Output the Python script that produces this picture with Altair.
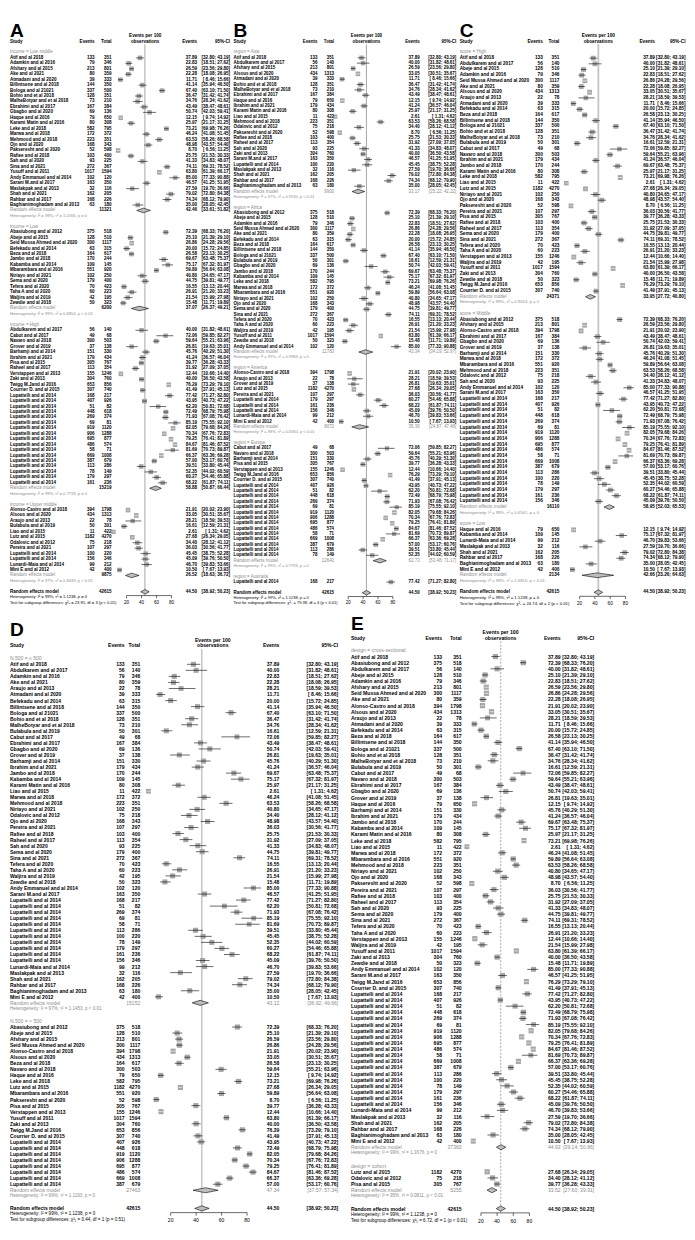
import altair as alt
import pandas as pd

# ---------------------------------------------------------------- data
keys = ["Atif","Abas","Abdu","Abej","Adam","Afsh","Seid","Ake","Alon","Also","Arau","Atma","Befe","Beza","Bill",
        "Bolo","Bohi","Malh","Bula","Cabu","Nava","Ebra","Gbag","Grov","Haqu","Barh","Ibra","Jamb","Kaba","Kara",
        "Leke","Liao","Marw","Mbar","Mehm","Niri","Ojo","Paks","Pere","Rafi","Rahe","Sah","Sema","Sina","Tefe",
        "Taha","Vers","Walj","Yusu","Zaki","Zewd","Andy","Sara","Twig","Cour",
        "L217","L926","L82","L618","L374","L81","L1120","L1288","L877","L574","L71","L1008","L679","L286","L220",
        "L149","L297","L236","L346","Luna","Masl","Shah","Rahb","Bagh","Mini","Lutz","Odal","Pisa"]
LUP = "Lupattelli and al 2014"
names = ["Atif  and al 2018","Abasiubong and al 2012","Abdulkarem and al 2017","Abeje and al 2015","Adamkin and al 2016",
         "Afshary and al 2015","Seid Mussa Ahmed and al 2020","Ake and al 2021","Alonso-Castro and al 2018","Alsous and al 2020",
         "Araujo and al 2013","Atmadani and al 2020","Befekadu  and al 2014","Beza and al 2018","Billintsene and al 2018",
         "Bologa and al 21021","Bohio and et al 2018","MalheBotyar and et al 2018","Bulabula and al 2019","Cabut and al 2017",
         "Navaro and al 2018","Ebrahimi and al 2017","Gbagbo and al 2020","Grover and al 2019","Haque and al 2016",
         "Barhamji and al 2014","Ibrahim and al 2021","Jambo and al 2018","Kabamba and al 2014","Karami Matin and al 2016",
         "Leke and al 2018","Liao and al 2015","Marwa and al 2018","Mbarambara and al 2016","Mehmood and al 2018",
         "Niriayo and al 2021","Ojo and al 2020","Pakseresht and al 2020","Pereira and al 2021","Rafiee and al 2018",
         "Raheel and al 2017","Sah and al 2020","Sema and al 2020","Sina and al 2021","Tefera and al 2020",
         "Taha A and al 2020","Verstappen and al 2013","Waljira and al 2019","Yusuff and al  2011","Zaki and al 2013",
         "Zewdie and al 2018","Andy Emmanuel and al 2014","Sarani M.and al 2017","Twigg M.Jand al 2016","Courrier D. and al 2015"] \
        + [LUP] * 19 + \
        ["Lunardi-Maia and al 2014","Maslakpak  and al 2013","Shah and al 2021","Rahbar and al 2017",
         "Baghianimoghadam and al 2013","Mini E and al 2012","Lutz and al 2015","Odalovic and al 2012","Pisa and al 2015"]
events = [133,375,56,128,79,213,300,80,394,434,22,39,63,164,144,337,128,73,50,49,300,167,69,37,79,151,179,170,109,80,
          582,11,172,551,223,102,168,52,107,103,113,93,179,272,70,60,155,42,1017,304,50,102,163,653,307,
          168,407,51,448,269,69,919,906,695,486,58,669,387,113,100,78,179,161,156,
          99,32,162,168,63,42,1182,75,305]
totals = [351,518,140,510,346,801,1117,359,1798,1313,78,333,315,617,350,500,351,210,301,68,503,384,136,138,650,330,434,244,145,308,
          795,422,372,920,351,250,343,598,297,400,354,225,400,367,423,223,1246,195,1594,760,323,120,350,856,740,
          217,926,82,618,374,81,1120,1288,877,574,71,1008,679,286,220,149,297,236,346,
          212,116,205,226,180,400,4270,218,767]
props = [37.89,72.39,40.00,25.10,22.83,26.59,26.86,22.28,21.91,33.05,28.21,11.71,20.00,26.58,41.14,67.40,36.47,34.76,16.61,72.06,
         59.64,43.49,50.74,26.81,12.15,45.76,41.24,69.67,75.17,25.97,73.21,2.61,46.24,59.89,63.53,40.80,48.98,8.70,36.03,25.75,
         31.92,41.33,44.75,74.11,16.55,26.91,12.44,21.54,63.80,40.00,15.48,85.00,46.57,76.29,41.49,
         77.42,43.95,62.20,72.49,71.93,85.19,82.05,70.34,79.25,84.67,81.69,66.37,57.00,39.51,45.45,52.35,60.27,68.22,45.09,
         46.70,27.59,79.02,74.34,35.00,10.50,27.68,34.40,39.77]
ci_lo = [32.80,68.33,31.82,21.39,18.51,23.56,24.28,18.08,20.02,30.51,18.59,8.46,15.72,23.13,35.94,63.10,31.42,28.34,12.59,59.85,
         55.21,38.47,42.03,19.63,9.74,40.29,36.57,63.48,67.32,21.17,69.98,1.31,41.08,56.64,58.26,34.65,43.57,6.56,30.56,21.53,
         27.09,34.83,39.81,69.31,13.13,21.20,10.66,15.99,61.39,36.50,11.71,77.33,41.25,73.29,37.91,
         71.27,40.73,50.81,68.79,67.08,75.55,79.68,67.76,76.41,81.46,70.73,63.36,53.17,33.80,38.75,44.02,54.46,61.87,39.76,
         39.83,19.70,72.80,68.12,28.05,7.67,26.34,28.12,36.28]
ci_hi = [43.19,76.20,48.61,29.10,27.62,29.80,29.56,26.95,23.90,35.67,39.53,15.66,24.85,30.25,46.50,71.50,41.74,41.62,21.31,82.27,
         63.96,48.61,59.41,35.01,14.92,51.30,46.04,75.37,81.97,31.25,76.26,4.62,51.45,63.08,68.58,47.17,54.40,11.25,41.77,30.33,
         37.05,48.07,49.77,78.52,20.44,33.23,14.40,27.98,66.17,43.58,19.89,90.88,51.95,79.10,45.13,
         82.80,47.22,72.68,75.98,76.42,92.10,84.26,72.83,81.89,87.52,89.87,69.28,60.76,45.44,52.28,60.59,65.88,74.11,50.50,
         53.66,36.66,84.38,79.90,42.45,13.93,29.05,41.12,43.33]

overall = (44.50, 38.92, 50.23)
overall_het = "Heterogeneity: I² = 99%, τ² = 1.1238, p = 0"
overall_tau2 = 1.1238
tick_values = [20, 40, 60, 80]

# A: income
A_labels = ["income = Low middle", "income = Low", "income = High", "income = Upper middle"]
A_members = [
    ["Atif","Adam","Afsh","Ake","Atma","Bill","Bolo","Bohi","Malh","Ebra","Gbag","Haqu","Kara","Leke","Marw","Mehm","Ojo",
     "Paks","Rafi","Sah","Sina","Yusu","Andy","Sara","Masl","Shah","Rahb","Bagh"],
    ["Abas","Abej","Seid","Befe","Beza","Jamb","Kaba","Mbar","Niri","Sema","Tefe","Taha","Walj","Zewd"],
    ["Abdu","Cabu","Nava","Grov","Barh","Ibra","Pisa","Rahe","Vers","Zaki","Twig","Cour","L217","L926","L82","L618","L374",
     "L81","L1120","L1288","L877","L574","L71","L1008","L679","L286","L149","L297","L236"],
    ["Alon","Also","Arau","Bula","Liao","Lutz","Odal","Pere","L220","L346","Luna","Mini"]]
A_re = [(42.46, 33.61, 51.82), (37.07, 26.37, 49.21), (58.88, 50.87, 66.44), (26.52, 18.63, 36.72)]
A_het = ["Heterogeneity: I² = 99%, τ² = 1.0166, p = 0", "Heterogeneity: I² = 99%, τ² = 0.6854, p < 0.01",
         "Heterogeneity: I² = 99%, τ² = 0.7719, p = 0", "Heterogeneity: I² = 97%, τ² = 0.8433, p < 0.01"]
A_test = "Test for subgroup differences: χ²₃ = 23.91, df = 3 (p < 0.01)"

# B: region
B_labels = ["region = Asia", "region = Africa", "region = America", "region = Europe", "region = Australia"]
B_members = [
    ["Atif","Abdu","Afsh","Also","Atma","Bohi","Malh","Ebra","Haqu","Ibra","Kara","Liao","Mehm","Odal","Paks","Rafi","Rahe",
     "Sah","Zaki","Sara","L220","Masl","Shah","Rahb","Bagh"],
    ["Abas","Abej","Adam","Seid","Ake","Befe","Beza","Bill","Bolo","Bula","Gbag","Jamb","Kaba","Leke","Marw","Mbar","Niri",
     "Ojo","Sema","Sina","Tefe","Taha","Walj","Yusu","Zewd","Andy"],
    ["Alon","Arau","Grov","Lutz","Pere","L297","L236","L346","Luna","Mini"],
    ["Cabu","Nava","Barh","Pisa","Vers","Twig","Cour","L926","L82","L618","L374","L81","L1120","L1288","L877","L574","L71",
     "L1008","L679","L286","L149"],
    ["L217"]]
B_re = [(33.17, 25.22, 42.22), (43.34, 34.19, 52.97), (35.36, 24.87, 47.48), (62.73, 53.48, 71.17), None]
B_het = ["Heterogeneity: I² = 97%, τ² = 0.9530, p < 0.01", "Heterogeneity: I² = 99%, τ² = 0.9983, p = 0",
         "Heterogeneity: I² = 98%, τ² = 0.6360, p < 0.01", "Heterogeneity: I² = 99%, τ² = 0.7793, p = 0", None]
B_test = "Test for subgroup differences: χ²₄ = 79.38, df = 4 (p < 0.01)"

# C: score
C_labels = ["score = High", "score = Middle", "score = Low"]
C_members = [
    ["Atif","Abdu","Abej","Adam","Seid","Ake","Also","Arau","Atma","Befe","Beza","Bill","Bolo","Bohi","Malh","Bula","Cabu",
     "Nava","Ibra","Jamb","Kara","Leke","Liao","Lutz","Niri","Ojo","Paks","Pere","Pisa","Rafi","Rahe","Sema","Sina","Tefe",
     "Taha","Vers","Walj","Yusu","Zaki","Zewd","Twig","Cour"],
    ["Abas","Afsh","Alon","Ebra","Gbag","Grov","Barh","Marw","Mbar","Mehm","Odal","Sah","Andy","Sara","L217","L926","L82",
     "L618","L374","L81","L1120","L1288","L877","L574","L71","L1008","L679","L286","L220","L149","L297","L236","L346"],
    ["Haqu","Kaba","Luna","Masl","Shah","Rahb","Bagh","Mini"]]
C_re = [(33.95, 27.72, 40.80), (58.95, 52.03, 65.53), (42.66, 23.26, 64.63)]
C_het = ["Heterogeneity: I² = 99%, τ² = 0.9024, p = 0", "Heterogeneity: I² = 99%, τ² = 0.6561, p = 0",
         "Heterogeneity: I² = 99%, τ² = 1.6810, p < 0.01"]
C_test = "Test for subgroup differences: χ²₂ = 24.74, df = 2 (p < 0.01)"

# D: sample size (study order of the full list)
D_order = keys[:32] + ["Lutz"] + keys[32:36] + ["Odal"] + keys[36:39] + ["Pisa"] + keys[39:80]
D_labels = ["N.500 = ≤ 500", "N.500 = > 500"]
D_members = [[k for k in D_order if totals[keys.index(k)] <= 500],
             [k for k in D_order if totals[keys.index(k)] > 500]]
D_re = [(43.12, 36.92, 49.66), (47.34, 37.57, 57.34)]
D_het = ["Heterogeneity: I² = 97%, τ² = 1.1453, p < 0.01", "Heterogeneity: I² = 99%, τ² = 1.1193, p = 0"]
D_test = "Test for subgroup differences: χ²₁ = 0.44, df = 1 (p = 0.51)"

# E: design
E_labels = ["design = cross-sectional", "design = cohort"]
E_members = [keys[:80], ["Lutz", "Odal", "Pisa"]]
E_re = [(44.93, 39.14, 50.86), (33.52, 27.60, 39.91)]
E_het = ["Heterogeneity: I² = 99%, τ² = 1.1676, p = 0", "Heterogeneity: I² = 95%, τ² = 0.0811, p < 0.01"]
E_test = "Test for subgroup differences: χ²₁ = 6.72, df = 1 (p < 0.01)"

# ---------------------------------------------------------------- layout
FONT = "Liberation Sans"
GRAY = "#8c8c8c"
LAYOUT = {
    "A": dict(W=226, H=598, fs=4.65, sp=5.56, y0=31.7, let_y=15.5, h1=14.7, h2=21.2, name=1, ev=87.3, tot=104.7,
              ctr=139, est=192, ci=225.7, x0=104.7, x100=181.2, vcol="#808080", vw=0.7, dash=False, rebold=True),
    "B": dict(W=229, H=598, fs=4.55, sp=5.46, y0=31.7, let_y=15.5, h1=14.7, h2=21.2, name=1.2, ev=86.8, tot=103.8,
              ctr=136.8, est=191.2, ci=228.5, x0=103.0, x100=179.0, vcol="#808080", vw=0.7, dash=False, rebold=False),
    "C": dict(W=232, H=598, fs=4.8, sp=5.8, y0=31.7, let_y=15.5, h1=14.7, h2=21.2, name=1, ev=85.8, tot=102.8,
              ctr=142.5, est=200.2, ci=231.5, x0=107.8, x100=185.8, vcol="#c4c4c4", vw=1.8, dash=False, rebold=True),
    "D": dict(W=343, H=626, fs=5.15, sp=6.17, y0=50, let_y=27, h1=31, h2=37, name=1, ev=118, tot=134,
              ctr=208, est=276, ci=336, x0=139, x100=269, vcol="#808080", vw=0.7, dash=False, rebold=False),
    "E": dict(W=344, H=626, fs=5.2, sp=6.26, y0=42, let_y=21.5, h1=23.3, h2=29, name=4, ev=97, tot=117,
              ctr=156.7, est=218, ci=252.3, x0=120.2, x100=202.7, vcol="#808080", vw=0.7, dash=True, rebold=False),
}

idx = {k: i for i, k in enumerate(keys)}
dummy = pd.DataFrame({"d": [0]})


def fmt_ci(lo, hi):
    return f"[{lo:5.2f}; {hi:5.2f}]"


def make_panel(tag, labels, members, re_list, het_list, test):
    L = LAYOUT[tag]
    slope = (L["x100"] - L["x0"]) / 100.0
    rows = []
    r = 0
    for lab, mem, re, het in zip(labels, members, re_list, het_list):
        rows.append(dict(row=r, kind="sub", label=lab, c=GRAY, lb=False, small=False))
        r += 1
        for k in mem:
            i = idx[k]
            v = 1.0 / events[i] + 1.0 / (totals[i] - events[i])
            rows.append(dict(row=r, kind="study", label=names[i], c="black", nc="black", lb=True, nb=True, small=False,
                             ev=str(events[i]), tot=str(totals[i]), p=props[i], lo=ci_lo[i], hi=ci_hi[i],
                             w=1.0 / (v + overall_tau2)))
            r += 1
        if re is not None:
            nc = "black" if L["rebold"] else GRAY
            rows.append(dict(row=r, kind="re", label="Random effects model", c=GRAY, nc=nc, lb=False,
                             nb=L["rebold"], small=False,
                             tot=str(sum(totals[idx[k]] for k in mem)), p=re[0], lo=re[1], hi=re[2]))
            r += 1
            rows.append(dict(row=r, kind="het", label=het, c=GRAY, lb=False, small=True))
            r += 1
        r += 1
    rows.append(dict(row=r, kind="ore", label="Random effects model", c="black", nc="black", nb=True, lb=True,
                     small=False, tot=str(sum(totals)), p=overall[0], lo=overall[1], hi=overall[2]))
    r += 1
    rows.append(dict(row=r, kind="ohet", label=overall_het, c="black", lb=False, small=True))
    r += 1
    rows.append(dict(row=r, kind="test", label=test, c="black", lb=False, small=True))
    r += 1
    N = r
    df = pd.DataFrame(rows)
    df["lb"] = df["lb"].astype(bool)
    df["small"] = df["small"].astype(bool)
    df["nb"] = df["nb"].fillna(False).astype(bool)
    df["est_t"] = df["p"].map(lambda v: "" if pd.isna(v) else f"{v:.2f}")
    df["ci_t"] = [("" if pd.isna(a) else fmt_ci(a, b)) for a, b in zip(df["lo"], df["hi"])]
    df = df.fillna({"ev": "", "tot": "", "nc": "black"})

    ysc = alt.Scale(domain=[0, N - 1], range=[L["y0"], L["y0"] + (N - 1) * L["sp"]], nice=False, zero=False)
    xsc = alt.Scale(domain=[0, 100], range=[L["x0"], L["x100"]], nice=False, zero=False)
    Y = alt.Y("row:Q", scale=ysc, axis=None)
    fs = L["fs"]
    layers = []

    def txt(data, field, x, align, color_field, bold, size=fs):
        return alt.Chart(data).mark_text(align=align, baseline="middle", font=FONT, fontSize=size,
                                         fontWeight="bold" if bold else "normal").encode(
            x=alt.value(x), y=Y, text=f"{field}:N", color=alt.Color(f"{color_field}:N", scale=None))

    def head(t, x, y, align, size=fs, bold=True):
        return alt.Chart(dummy).mark_text(text=t, align=align, baseline="alphabetic" if size > 10 else "middle",
                                          font=FONT, fontSize=size,
                                          fontWeight="bold" if bold else "normal", color="black").encode(
            x=alt.value(x), y=alt.value(y))

    layers.append(head(tag, L["name"], L["let_y"], "left", size=19.5, bold=True))
    layers.append(head("Study", L["name"], L["h2"], "left"))
    layers.append(head("Events", L["ev"], L["h2"], "right"))
    layers.append(head("Total", L["tot"], L["h2"], "right"))
    layers.append(head("Events per 100", L["ctr"], L["h1"], "center"))
    layers.append(head("observations", L["ctr"], L["h2"], "center"))
    layers.append(head("Events", L["est"], L["h2"], "right"))
    layers.append(head("95%-CI", L["ci"], L["h2"], "right"))

    # reference line at the overall estimate
    vl = pd.DataFrame({"x": [overall[0]], "ya": [-1.5], "yb": [N - 2.3]})
    rule_kw = dict(color=L["vcol"], strokeWidth=L["vw"])
    if L["dash"]:
        rule_kw["strokeDash"] = [2, 1.5]
    layers.append(alt.Chart(vl).mark_rule(**rule_kw).encode(
        x=alt.X("x:Q", scale=xsc, axis=None), y=alt.Y("ya:Q", scale=ysc, axis=None), y2="yb:Q"))

    # study squares and confidence intervals
    st = df[df.kind == "study"].copy()
    wmax = st["w"].max()
    side = 0.85 * L["sp"] * st["w"] / wmax
    st["sz"] = side ** 2
    st["lc"] = ["white" if (h - l) * slope < s else "black" for l, h, s in zip(st["lo"], st["hi"], side)]
    layers.append(alt.Chart(st).mark_square(filled=True, color="#a6a6a6", opacity=1).encode(
        x=alt.X("p:Q", scale=xsc, axis=None), y=Y, size=alt.Size("sz:Q", scale=None)))
    layers.append(alt.Chart(st).mark_rule(strokeWidth=0.6).encode(
        x=alt.X("lo:Q", scale=xsc, axis=None), x2="hi:Q", y=Y, color=alt.Color("lc:N", scale=None)))

    # diamonds
    dm = df[df.kind.isin(["re", "ore"])]
    drows = []
    for g, (_, rr) in enumerate(dm.iterrows()):
        drows += [dict(g=g, dx=rr["lo"], dy=rr["row"], dy2=rr["row"]),
                  dict(g=g, dx=rr["p"], dy=rr["row"] - 0.42, dy2=rr["row"] + 0.42),
                  dict(g=g, dx=rr["hi"], dy=rr["row"], dy2=rr["row"])]
    layers.append(alt.Chart(pd.DataFrame(drows)).mark_area(color="#bebebe", stroke="black", strokeWidth=0.6,
                                                           opacity=1, interpolate="linear").encode(
        x=alt.X("dx:Q", scale=xsc, axis=None), y=alt.Y("dy:Q", scale=ysc, axis=None), y2="dy2:Q",
        detail="g:N"))

    # x axis
    ax = pd.DataFrame({"a": [tick_values[0]], "b": [tick_values[-1]], "y": [N - 2.3]})
    layers.append(alt.Chart(ax).mark_rule(color="black", strokeWidth=0.6).encode(
        x=alt.X("a:Q", scale=xsc, axis=None), x2="b:Q", y=alt.Y("y:Q", scale=ysc, axis=None)))
    tk = pd.DataFrame({"t": tick_values, "ya": [N - 2.3] * 4, "yb": [N - 1.8] * 4, "yl": [N - 1] * 4,
                       "lab": [str(t) for t in tick_values]})
    layers.append(alt.Chart(tk).mark_rule(color="black", strokeWidth=0.6).encode(
        x=alt.X("t:Q", scale=xsc, axis=None), y=alt.Y("ya:Q", scale=ysc, axis=None), y2="yb:Q"))
    layers.append(alt.Chart(tk).mark_text(align="center", baseline="middle", font=FONT, fontSize=fs,
                                          color="black").encode(
        x=alt.X("t:Q", scale=xsc, axis=None), y=alt.Y("yl:Q", scale=ysc, axis=None), text="lab:N"))

    # text columns
    layers.append(txt(df[~df["lb"] & ~df["small"]], "label", L["name"], "left", "c", False))
    layers.append(txt(df[df["lb"]], "label", L["name"], "left", "c", True))
    layers.append(txt(df[df["small"]], "label", L["name"], "left", "c", False, size=round(fs * 0.9, 2)))
    num = df[df.kind.isin(["study", "re", "ore"])]
    num_n = num[~num["nb"]]
    num_b = num[num["nb"]]
    layers.append(txt(num_b, "ev", L["ev"], "right", "nc", True))
    for data, bold in ((num_n, False), (num_b, True)):
        if len(data) == 0:
            continue
        layers.append(txt(data, "tot", L["tot"], "right", "nc", bold))
        layers.append(txt(data, "est_t", L["est"], "right", "nc", bold))
        layers.append(txt(data, "ci_t", L["ci"], "right", "nc", bold))

    return alt.layer(*layers).properties(width=L["W"], height=L["H"])


pA = make_panel("A", A_labels, A_members, A_re, A_het, A_test)
pB = make_panel("B", B_labels, B_members, B_re, B_het, B_test)
pC = make_panel("C", C_labels, C_members, C_re, C_het, C_test)
pD = make_panel("D", D_labels, D_members, D_re, D_het, D_test)
pE = make_panel("E", E_labels, E_members, E_re, E_het, E_test)

top = alt.hconcat(pA, pB, pC, spacing=0)
bottom = alt.hconcat(pD, pE, spacing=0)
chart = alt.vconcat(top, bottom, spacing=0).properties(padding=0).configure_view(stroke="transparent")

chart.save("out.html", embed_options={"renderer": "svg", "actions": False})
